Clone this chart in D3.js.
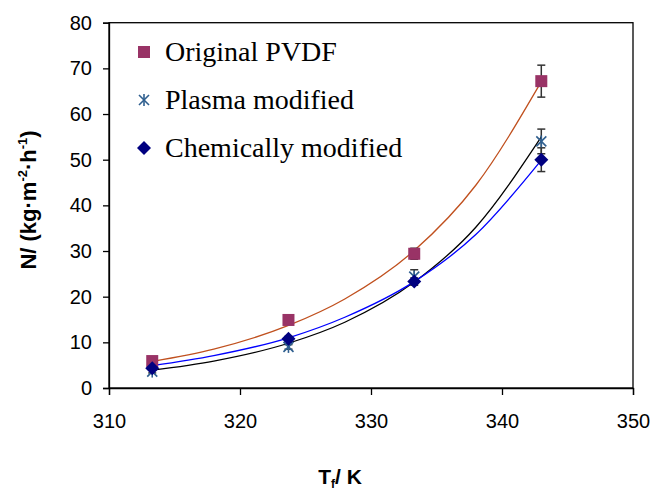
<!DOCTYPE html>
<html lang="en">
<head>
    <meta charset="utf-8">
    <title>Flux vs temperature</title>
    <script src="https://d3js.org/d3.v7.min.js"></script>
    <style>
        body { margin: 0; background: #fff; }
        .tick text { font-family: Arial, "Liberation Sans", sans-serif; font-size: 20px; fill: #000; }
    </style>
</head>
<body>
    <script>
        // measured points (temperature K, flux kg/m2/h, error)
        var temps = [313.3, 323.7, 333.3, 343.0];
        var original = [5.9, 14.9, 29.4, 67.2];
        var originalErr = [0.4, 0.5, 1.2, 3.5];
        var plasma = [3.6, 9.0, 24.4, 54.0];
        var plasmaErr = [0.3, 0.5, 1.5, 2.7];
        var chemical = [4.3, 10.8, 23.3, 50.0];
        var chemicalErr = [0.3, 0.5, 0.8, 2.6];

        // trend lines
        var fitTemps = [313.3, 318, 323.7, 328, 333.3, 338, 343.0];
        var originalFit = [5.8, 8.5, 13.7, 19.5, 30.1, 44.4, 67.1];
        var plasmaFit = [3.9, 5.9, 9.8, 14.4, 23.2, 35.2, 55.0];
        var chemicalFit = [4.9, 7.1, 11.0, 15.5, 23.3, 33.6, 49.9];

        var xTicks = [310, 320, 330, 340, 350];
        var yTicks = [0, 10, 20, 30, 40, 50, 60, 70, 80];
        var legendNames = ['Original PVDF', 'Plasma modified', 'Chemically modified'];

        // canvas
        var width = 653, height = 493;
        var margin = { left: 109, right: 20, top: 22.7, bottom: 105 };

        var svg = d3.select('body').append('svg')
            .attr('width', width).attr('height', height);

        var x = d3.scaleLinear().domain([310, 350]).range([margin.left, width - margin.right]);
        var y = d3.scaleLinear().domain([0, 80]).range([height - margin.bottom, margin.top]);

        // frame
        svg.append('rect')
            .attr('x', x(310)).attr('y', y(80))
            .attr('width', x(350) - x(310)).attr('height', y(0) - y(80))
            .attr('fill', 'none').attr('stroke', '#000').attr('stroke-width', 1.3);

        // axes
        var xAxis = svg.append('g').attr('transform', 'translate(0,' + y(0) + ')')
            .call(d3.axisBottom(x).tickValues(xTicks).tickSize(7).tickPadding(19).tickFormat(d3.format('d')));
        var yAxis = svg.append('g').attr('transform', 'translate(' + x(310) + ',0)')
            .call(d3.axisLeft(y).tickValues(yTicks).tickSize(6).tickPadding(11).tickFormat(d3.format('d')));
        [xAxis, yAxis].forEach(function (a) {
            a.select('.domain').attr('stroke', '#000').attr('stroke-width', 1.3);
            a.selectAll('.tick line').attr('stroke', '#000').attr('stroke-width', 1.3);
        });

        // axis titles
        var xt = svg.append('text')
            .attr('x', 340).attr('y', 484)
            .attr('text-anchor', 'middle')
            .attr('font-family', 'Arial, "Liberation Sans", sans-serif')
            .attr('font-weight', 'bold').attr('font-size', 21);
        xt.append('tspan').text('T');
        xt.append('tspan').attr('font-size', 12).attr('dy', 4).text('f');
        xt.append('tspan').attr('dy', -4).text('/ K');

        var yt = svg.append('text')
            .attr('transform', 'translate(36,200) rotate(-90)')
            .attr('text-anchor', 'middle')
            .attr('font-family', 'Arial, "Liberation Sans", sans-serif')
            .attr('font-weight', 'bold').attr('font-size', 22);
        yt.append('tspan').text('N/ (kg\u00b7m');
        yt.append('tspan').attr('font-size', 13).attr('dy', -9).text('-2');
        yt.append('tspan').attr('dy', 9).text('\u00b7h');
        yt.append('tspan').attr('font-size', 13).attr('dy', -9).text('-1');
        yt.append('tspan').attr('dy', 9).text(')');

        // trend lines
        var line = d3.line().curve(d3.curveMonotoneX)
            .x(function (d) { return x(d[0]); })
            .y(function (d) { return y(d[1]); });
        var fits = [
            { v: originalFit, c: '#c0501e' },
            { v: plasmaFit, c: '#000000' },
            { v: chemicalFit, c: '#0000ff' }
        ];
        fits.forEach(function (f) {
            svg.append('path')
                .attr('d', line(fitTemps.map(function (t, i) { return [t, f.v[i]]; })))
                .attr('fill', 'none').attr('stroke', f.c).attr('stroke-width', 1.3);
        });

        // error bars
        function errorBars(vals, errs) {
            var g = svg.append('g');
            temps.forEach(function (t, i) {
                var cx = x(t), top = y(vals[i] + errs[i]), bot = y(vals[i] - errs[i]);
                g.append('line').attr('x1', cx).attr('x2', cx).attr('y1', top).attr('y2', bot);
                g.append('line').attr('x1', cx - 4).attr('x2', cx + 4).attr('y1', top).attr('y2', top);
                g.append('line').attr('x1', cx - 4).attr('x2', cx + 4).attr('y1', bot).attr('y2', bot);
            });
            g.selectAll('line').attr('stroke', '#333').attr('stroke-width', 1.5);
        }
        errorBars(original, originalErr);
        errorBars(plasma, plasmaErr);
        errorBars(chemical, chemicalErr);

        // markers
        function square(g, cx, cy) {
            g.append('rect').attr('x', cx - 6).attr('y', cy - 6).attr('width', 12).attr('height', 12)
                .attr('fill', '#993366');
        }
        function star(g, cx, cy) {
            var s = g.append('g').attr('stroke', '#2f5f8f').attr('stroke-width', 1.6);
            s.append('line').attr('x1', cx - 5).attr('x2', cx + 5).attr('y1', cy - 5).attr('y2', cy + 5);
            s.append('line').attr('x1', cx - 5).attr('x2', cx + 5).attr('y1', cy + 5).attr('y2', cy - 5);
            s.append('line').attr('x1', cx).attr('x2', cx).attr('y1', cy - 6).attr('y2', cy + 6);
        }
        function diamond(g, cx, cy) {
            g.append('path').attr('d', 'M' + cx + ',' + (cy - 7) + 'L' + (cx + 7) + ',' + cy +
                'L' + cx + ',' + (cy + 7) + 'L' + (cx - 7) + ',' + cy + 'Z')
                .attr('fill', '#000080');
        }
        var markers = svg.append('g');
        temps.forEach(function (t, i) { square(markers, x(t), y(original[i])); });
        temps.forEach(function (t, i) { star(markers, x(t), y(plasma[i])); });
        temps.forEach(function (t, i) { diamond(markers, x(t), y(chemical[i])); });

        // legend
        var legend = svg.append('g');
        var drawers = [square, star, diamond];
        legendNames.forEach(function (name, i) {
            var cy = 52 + i * 48;
            drawers[i](legend, 144, cy);
            legend.append('text').attr('x', 165).attr('y', cy + 9)
                .attr('font-family', '"Times New Roman", "Liberation Serif", serif')
                .attr('font-size', 28).text(name);
        });
    </script>
</body>
</html>
